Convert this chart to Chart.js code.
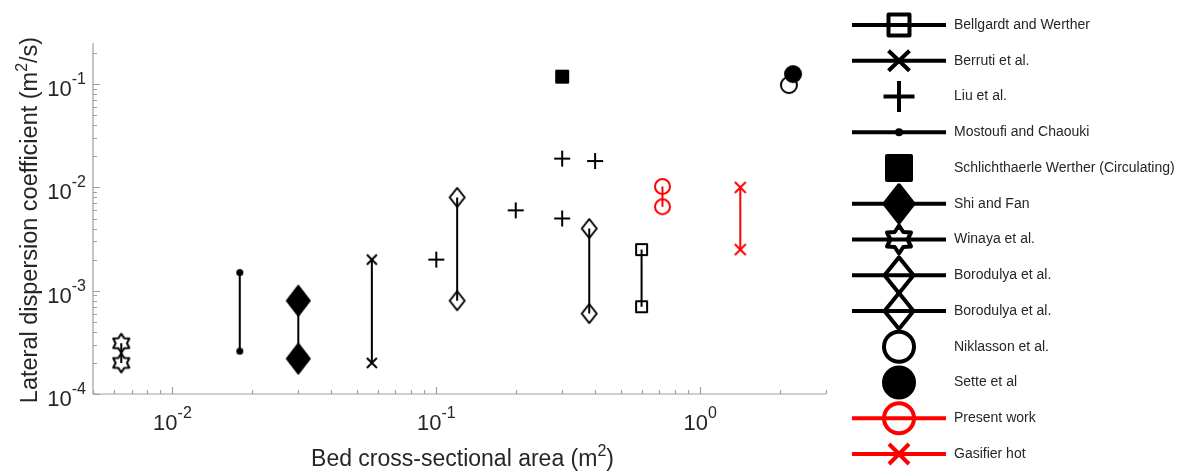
<!DOCTYPE html>
<html>
<head>
<meta charset="utf-8">
<script src="https://cdn.jsdelivr.net/npm/chart.js@4.4.0/dist/chart.umd.min.js"></script>
<style>
body { margin: 0; background: #fff; }
#wrap { width: 1177px; height: 473px; position: relative; }
</style>
</head>
<body>
<div id="wrap"><canvas id="graph"></canvas></div>
<script>
// values (x = bed area m2, y = dispersion m2/s)
let bellgardt_x = [0.6, 0.6];
let bellgardt_y = [2.5e-3, 7e-4];
let berruti_x = [0.057, 0.057];
let berruti_y = [2e-3, 2e-4];
let liu_x = [0.1, 0.2, 0.3, 0.4, 0.3];
let liu_y = [2e-3, 6e-3, 0.019, 0.018, 5e-3];
let mostoufi_x = [0.018, 0.018];
let mostoufi_y = [1.5e-3, 2.6e-4];
let schlicht_x = [0.3];
let schlicht_y = [0.118];
let shi_x = [0.03, 0.03];
let shi_y = [8e-4, 2.2e-4];
let winaya_x = [0.0064, 0.0064];
let winaya_y = [3.1e-4, 2.0e-4];
let borodulya1_x = [0.12, 0.12];
let borodulya1_y = [8e-3, 8e-4];
let borodulya2_x = [0.38, 0.38];
let borodulya2_y = [4e-3, 6e-4];
let niklasson_x = [2.17];
let niklasson_y = [0.098];
let sette_x = [2.25];
let sette_y = [0.125];
let present_x = [0.72, 0.72];
let present_y = [0.0102, 0.0065];
let gasifier_x = [1.42, 1.42];
let gasifier_y = [0.01, 2.5e-3];

let x_min = 0.005, x_max = 3;
let y_min = 1e-4, y_max = 0.25;
let x_ticks = [0.01, 0.1, 1];
let x_tick_exp = ['-2', '-1', '0'];
let y_ticks = [1e-4, 1e-3, 1e-2, 1e-1];
let y_tick_exp = ['-4', '-3', '-2', '-1'];
let x_title = ['Bed cross-sectional area (m', '2', ')'];
let y_title = ['Lateral dispersion coefficient (m', '2', '/s)'];

const FONT = '"Liberation Sans", Arial, sans-serif';
const RED = '#ff0000';

// kind, plot marker size [w,h], legend marker size [w,h]
let series = [
    {label: 'Bellgardt and Werther', xs: bellgardt_x, ys: bellgardt_y, kind: 'square', color: '#000', line: true, size: [13, 13], lsize: [25, 25]},
    {label: 'Berruti et al.', xs: berruti_x, ys: berruti_y, kind: 'x', color: '#000', line: true, size: [12, 12], lsize: [25, 24]},
    {label: 'Liu et al.', xs: liu_x, ys: liu_y, kind: 'plus', color: '#000', line: false, size: [16, 16], lsize: [31, 31]},
    {label: 'Mostoufi and Chaouki', xs: mostoufi_x, ys: mostoufi_y, kind: 'dot', color: '#000', line: true, size: [7, 7], lsize: [8, 8]},
    {label: 'Schlichthaerle Werther (Circulating)', xs: schlicht_x, ys: schlicht_y, kind: 'squareFilled', color: '#000', line: false, size: [14, 14], lsize: [28, 28]},
    {label: 'Shi and Fan', xs: shi_x, ys: shi_y, kind: 'diamondFilled', color: '#000', line: true, size: [25, 32], lsize: [33, 41]},
    {label: 'Winaya et al.', xs: winaya_x, ys: winaya_y, kind: 'hexagram', color: '#000', line: true, size: [18, 21], lsize: [28, 32]},
    {label: 'Borodulya et al.', xs: borodulya1_x, ys: borodulya1_y, kind: 'diamond', color: '#000', line: true, size: [17, 21], lsize: [33, 40]},
    {label: 'Borodulya et al.', xs: borodulya2_x, ys: borodulya2_y, kind: 'diamond', color: '#000', line: true, size: [17, 21], lsize: [33, 40]},
    {label: 'Niklasson et al.', xs: niklasson_x, ys: niklasson_y, kind: 'circle', color: '#000', line: false, size: [18, 18], lsize: [34, 34]},
    {label: 'Sette et al', xs: sette_x, ys: sette_y, kind: 'circleFilled', color: '#000', line: false, size: [18, 18], lsize: [34, 34], order: -1},
    {label: 'Present work', xs: present_x, ys: present_y, kind: 'circle', color: RED, line: true, size: [17, 17], lsize: [34, 34]},
    {label: 'Gasifier hot', xs: gasifier_x, ys: gasifier_y, kind: 'x', color: RED, line: true, size: [13, 13], lsize: [24, 24]}
];

// w,h are the outer size of the mark including its stroke
function draw_marker(ctx, kind, x, y, w, h, color, lw) {
    let a = (w - lw) / 2, b = (h - lw) / 2;
    ctx.save();
    ctx.translate(x, y);
    ctx.strokeStyle = color;
    ctx.fillStyle = color;
    ctx.lineWidth = lw;
    ctx.lineJoin = 'round';
    ctx.lineCap = 'butt';
    ctx.beginPath();
    if (kind === 'square' || kind === 'squareFilled') {
        ctx.rect(-a, -b, 2 * a, 2 * b);
    } else if (kind === 'x') {
        ctx.moveTo(-a, -b); ctx.lineTo(a, b);
        ctx.moveTo(a, -b); ctx.lineTo(-a, b);
    } else if (kind === 'plus') {
        ctx.moveTo(-w / 2, 0); ctx.lineTo(w / 2, 0);
        ctx.moveTo(0, -h / 2); ctx.lineTo(0, h / 2);
    } else if (kind === 'dot') {
        ctx.arc(0, 0, w / 2, 0, Math.PI * 2);
    } else if (kind === 'diamond' || kind === 'diamondFilled') {
        ctx.moveTo(0, -b); ctx.lineTo(a, 0); ctx.lineTo(0, b); ctx.lineTo(-a, 0); ctx.closePath();
    } else if (kind === 'hexagram') {
        for (let k = 0; k < 12; k++) {
            let ang = -Math.PI / 2 + k * Math.PI / 6;
            let r = k % 2 === 0 ? 1 : 0.62;
            let px = Math.cos(ang) * r * a / Math.cos(Math.PI / 6);
            let py = Math.sin(ang) * r * b;
            if (k === 0) ctx.moveTo(px, py); else ctx.lineTo(px, py);
        }
        ctx.closePath();
    } else if (kind === 'circle' || kind === 'circleFilled') {
        ctx.arc(0, 0, a, 0, Math.PI * 2);
    }
    if (kind === 'dot' || kind.endsWith('Filled')) ctx.fill();
    if (kind !== 'dot') ctx.stroke();
    ctx.restore();
}

function make_marker(kind, w, h, color, lw) {
    let c = document.createElement('canvas');
    c.width = Math.ceil(w) + 4;
    c.height = Math.ceil(h) + 4;
    draw_marker(c.getContext('2d'), kind, c.width / 2, c.height / 2, w, h, color, lw);
    return c;
}

let datasets = series.map(function (s) {
    return {
        label: s.label,
        data: s.xs.map(function (x, i) { return {x: x, y: s.ys[i]}; }),
        showLine: s.line,
        borderColor: s.color,
        backgroundColor: s.color,
        borderWidth: 2,
        tension: 0,
        pointStyle: make_marker(s.kind, s.size[0], s.size[1], s.color, 2),
        pointRadius: 8,
        pointHoverRadius: 8,
        order: s.order || 0
    };
});

function draw_power(ctx, exp, x, y, align) {
    ctx.font = '22px ' + FONT;
    let w1 = ctx.measureText('10').width;
    ctx.font = '16px ' + FONT;
    let w2 = ctx.measureText(exp).width;
    let x0 = align === 'right' ? x - w1 - w2 : x - (w1 + w2) / 2;
    ctx.font = '22px ' + FONT;
    ctx.fillText('10', x0, y);
    ctx.font = '16px ' + FONT;
    ctx.fillText(exp, x0 + w1, y - 12);
}

function draw_title(ctx, parts, cx, y, size) {
    ctx.font = size + 'px ' + FONT;
    let w1 = ctx.measureText(parts[0]).width;
    let w3 = ctx.measureText(parts[2]).width;
    ctx.font = '16px ' + FONT;
    let w2 = ctx.measureText(parts[1]).width;
    let x0 = cx - (w1 + w2 + w3) / 2;
    ctx.font = size + 'px ' + FONT;
    ctx.fillText(parts[0], x0, y);
    ctx.fillText(parts[2], x0 + w1 + w2, y);
    ctx.font = '16px ' + FONT;
    ctx.fillText(parts[1], x0 + w1, y - 10);
}

const axes_plugin = {
    id: 'matlab_axes',
    beforeDatasetsDraw(chart) {
        let ctx = chart.ctx, a = chart.chartArea;
        let xs = chart.scales.x, ys = chart.scales.y;
        ctx.save();
        ctx.strokeStyle = '#a0a0a0';
        ctx.lineWidth = 1.2;
        ctx.beginPath();
        ctx.moveTo(a.left, a.top); ctx.lineTo(a.left, a.bottom); ctx.lineTo(a.right, a.bottom);
        // inward tick marks, minor at 2..9
        for (let d = -3; d <= 0; d++) {
            for (let m = 1; m <= 9; m++) {
                let v = m * Math.pow(10, d);
                if (v < x_min * 0.999 || v > x_max * 1.001) continue;
                let px = Math.round(xs.getPixelForValue(v)) + 0.5;
                ctx.moveTo(px, a.bottom); ctx.lineTo(px, a.bottom - (m === 1 ? 7 : 4));
            }
        }
        for (let d = -4; d <= -1; d++) {
            for (let m = 1; m <= 9; m++) {
                let v = m * Math.pow(10, d);
                if (v < y_min * 0.999 || v > y_max * 1.001) continue;
                let py = Math.round(ys.getPixelForValue(v)) + 0.5;
                ctx.moveTo(a.left, py); ctx.lineTo(a.left + (m === 1 ? 7 : 4), py);
            }
        }
        ctx.stroke();

        ctx.fillStyle = '#262626';
        ctx.textAlign = 'left';
        ctx.textBaseline = 'alphabetic';
        x_ticks.forEach(function (v, i) {
            draw_power(ctx, x_tick_exp[i], xs.getPixelForValue(v), a.bottom + 36, 'center');
        });
        y_ticks.forEach(function (v, i) {
            draw_power(ctx, y_tick_exp[i], a.left - 7, ys.getPixelForValue(v) + 12, 'right');
        });
        draw_title(ctx, x_title, (a.left + a.right) / 2 + 3, 466, 23);
        ctx.translate(37, 220);
        ctx.rotate(-Math.PI / 2);
        draw_title(ctx, y_title, 0, 0, 23.5);
        ctx.restore();
    }
};

const legend_plugin = {
    id: 'side_legend',
    afterDraw(chart) {
        let ctx = chart.ctx;
        ctx.save();
        series.forEach(function (s, i) {
            let y = 25 + i * 35.75;
            if (s.line) {
                ctx.strokeStyle = s.color;
                ctx.lineWidth = 4;
                ctx.beginPath();
                ctx.moveTo(852, y); ctx.lineTo(946, y);
                ctx.stroke();
            }
            draw_marker(ctx, s.kind, 899, y, s.lsize[0], s.lsize[1], s.color, 4);
            ctx.fillStyle = '#262626';
            ctx.font = '14px ' + FONT;
            ctx.textAlign = 'left';
            ctx.textBaseline = 'middle';
            ctx.fillText(s.label, 954, y);
        });
        ctx.restore();
    }
};

let ctx1 = document.getElementById('graph').getContext('2d');
window.myChart = new Chart(ctx1, {
    type: 'scatter',
    data: {datasets: datasets},
    options: {
        responsive: true,
        maintainAspectRatio: false,
        animation: false,
        events: [],
        layout: {padding: {left: 93, top: 43, right: 351, bottom: 79}},
        plugins: {legend: {display: false}, tooltip: {enabled: false}},
        scales: {
            x: {type: 'logarithmic', min: x_min, max: x_max, display: false},
            y: {type: 'logarithmic', min: y_min, max: y_max, display: false}
        }
    },
    plugins: [axes_plugin, legend_plugin]
});
</script>
</body>
</html>
